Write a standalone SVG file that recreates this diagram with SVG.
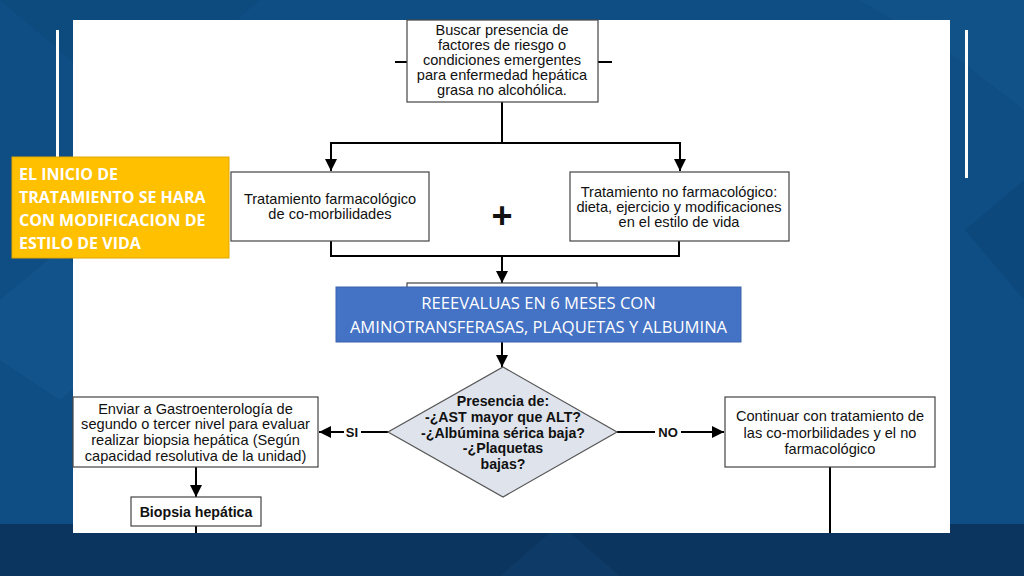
<svg xmlns="http://www.w3.org/2000/svg" width="1024" height="576" viewBox="0 0 1024 576">
<defs>
<marker id="arr" viewBox="0 0 12 12" refX="12" refY="6" markerWidth="12" markerHeight="12" markerUnits="userSpaceOnUse" orient="auto">
<path d="M0,0 L12,6 L0,12 Z" fill="#000"/>
</marker>
<style>
.box{fill:#fff;stroke:#444;stroke-width:1.2}
.t{font-family:"Liberation Sans",Arial,sans-serif;font-size:14.6px;fill:#111;text-anchor:middle}
.tb{font-family:"Liberation Sans",Arial,sans-serif;font-size:14.2px;font-weight:bold;fill:#111;text-anchor:middle}
.c{fill:none;stroke:#000;stroke-width:2}
.w{font-family:"Open Sans","Noto Sans",sans-serif;fill:#fff}
</style>
</defs>
<g id="background">
<rect x="0" y="0" width="1024" height="576" fill="#0f4e84"/>
<polygon points="0,0 260,0 130,110" fill="#0c4779" opacity="0.6"/>
<polygon points="860,0 1024,0 1024,110 960,60" fill="#12558c" opacity="0.7"/>
<polygon points="965,230 1024,180 1024,300" fill="#0c4677" opacity="0.7"/>
<polygon points="0,300 60,250 140,330 60,400 0,360" fill="#12568e" opacity="0.6"/>
<rect x="0" y="524" width="1024" height="52" fill="#0b355e"/>
<polygon points="560,524 620,576 500,576" fill="#0e3d69" opacity="0.7"/>
<rect x="56" y="30" width="3" height="150" fill="#fff"/>
<rect x="965" y="30" width="3" height="148" fill="#fff"/>
<rect x="73" y="20" width="877" height="513" fill="#fff"/>
</g>
<g id="connectors">
<line class="c" x1="395" y1="62" x2="407" y2="62"/>
<line class="c" x1="598" y1="62" x2="612" y2="62"/>
<polyline class="c" points="502,102 502,143"/>
<polyline class="c" points="331,143 680,143"/>
<line class="c" x1="331" y1="142" x2="331" y2="171" marker-end="url(#arr)"/>
<line class="c" x1="680" y1="142" x2="680" y2="171" marker-end="url(#arr)"/>
<polyline class="c" points="331,241 331,256 679,256 679,241"/>
<line class="c" x1="502" y1="256" x2="502" y2="283" marker-end="url(#arr)"/>
<line class="c" x1="502" y1="342" x2="502" y2="367" marker-end="url(#arr)"/>
<line class="c" x1="388" y1="432" x2="361" y2="432"/>
<line class="c" x1="344" y1="432" x2="319" y2="432" marker-end="url(#arr)"/>
<line class="c" x1="617" y1="432" x2="655" y2="432"/>
<line class="c" x1="681" y1="432" x2="724" y2="432" marker-end="url(#arr)"/>
<line class="c" x1="196" y1="467" x2="196" y2="497" marker-end="url(#arr)"/>
<line class="c" x1="196" y1="526" x2="196" y2="533"/>
<line class="c" x1="830" y1="467" x2="830" y2="533"/>
<text class="tb" x="352" y="437" style="font-size:13px">SI</text>
<text class="tb" x="668" y="437" style="font-size:13px">NO</text>
</g>
<g id="n-buscar">
<rect class="box" x="407" y="20" width="191" height="82"/>
<text class="t" x="502" y="35">Buscar presencia de</text>
<text class="t" x="502" y="50">factores de riesgo o</text>
<text class="t" x="502" y="65">condiciones emergentes</text>
<text class="t" x="502" y="80">para enfermedad hepática</text>
<text class="t" x="502" y="95">grasa no alcohólica.</text>
</g>
<g id="n-farmaco">
<rect class="box" x="231" y="172" width="198" height="69"/>
<text class="t" x="330" y="204">Tratamiento farmacológico</text>
<text class="t" x="330" y="219">de co-morbilidades</text>
</g>
<g id="n-plus">
<text class="tb" x="502" y="228" style="font-size:36px">+</text>
</g>
<g id="n-nofarmaco">
<rect class="box" x="570" y="172" width="219" height="69"/>
<text class="t" x="679" y="197">Tratamiento no farmacológico:</text>
<text class="t" x="679" y="212">dieta, ejercicio y modificaciones</text>
<text class="t" x="679" y="227">en el estilo de vida</text>
</g>
<g id="n-reevaluas">
<rect class="box" x="407" y="283" width="190" height="12"/>
<rect x="336" y="287" width="405" height="55" fill="#4472c4" stroke="#3a63ad" stroke-width="1"/>
<text class="w" x="538.5" y="309" text-anchor="middle" font-size="16.6">REEEVALUAS EN 6 MESES CON</text>
<text class="w" x="538.5" y="333" text-anchor="middle" font-size="16.6">AMINOTRANSFERASAS, PLAQUETAS Y ALBUMINA</text>
</g>
<g id="n-presencia">
<polygon points="503,367 617,432 503,497 388,432" fill="#dfe4ec" stroke="#555" stroke-width="1.2"/>
<text class="tb" x="503" y="406">Presencia de:</text>
<text class="tb" x="503" y="422">-¿AST mayor que ALT?</text>
<text class="tb" x="503" y="438">-¿Albúmina sérica baja?</text>
<text class="tb" x="503" y="453">-¿Plaquetas</text>
<text class="tb" x="503" y="469">bajas?</text>
</g>
<g id="n-enviar">
<rect class="box" x="73" y="397" width="245" height="70"/>
<text class="t" x="195.5" y="414">Enviar a Gastroenterología de</text>
<text class="t" x="195.5" y="429">segundo o tercer nivel para evaluar</text>
<text class="t" x="195.5" y="445">realizar biopsia hepática (Según</text>
<text class="t" x="195.5" y="461">capacidad resolutiva de la unidad)</text>
</g>
<g id="n-biopsia">
<rect class="box" x="131" y="497" width="130" height="29"/>
<text class="tb" x="196" y="517">Biopsia hepática</text>
</g>
<g id="n-continuar">
<rect class="box" x="725" y="397" width="210" height="70"/>
<text class="t" x="830" y="421">Continuar con tratamiento de</text>
<text class="t" x="830" y="438">las co-morbilidades y el no</text>
<text class="t" x="830" y="454">farmacológico</text>
</g>
<g id="n-inicio">
<rect x="12" y="157" width="217" height="101" fill="#ffc000" stroke="#e0a800" stroke-width="1"/>
<text class="w" x="19" y="180" font-size="16" font-weight="bold">EL INICIO DE</text>
<text class="w" x="19" y="203" font-size="16" font-weight="bold">TRATAMIENTO SE HARA</text>
<text class="w" x="19" y="226" font-size="16" font-weight="bold">CON MODIFICACION DE</text>
<text class="w" x="19" y="249" font-size="16" font-weight="bold">ESTILO DE VIDA</text>
</g>
</svg>
